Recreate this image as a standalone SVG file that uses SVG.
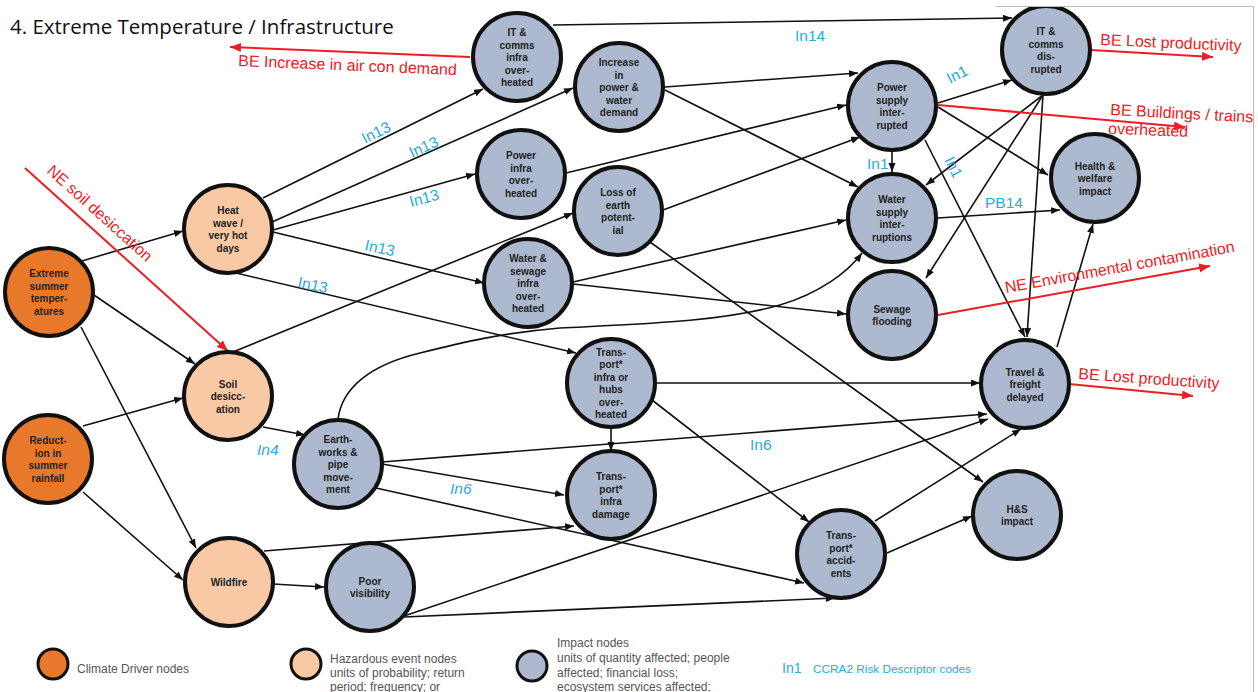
<svg xmlns="http://www.w3.org/2000/svg" width="1258" height="692" viewBox="0 0 1258 692">
<defs>
<style>
.drv{fill:#E8792B;stroke:#111;stroke-width:4}
.haz{fill:#F9C9A5;stroke:#111;stroke-width:4}
.imp{fill:#ADB9CE;stroke:#111;stroke-width:4}
.lgc{stroke-width:3}
.nt{font-family:"Liberation Sans",Arial,sans-serif;font-weight:bold;font-size:10px;fill:#222;text-anchor:middle}
.c{stroke:#111;stroke-width:1.6;fill:none;marker-end:url(#ah)}
.r{stroke:#EE1C25;stroke-width:2;fill:none;marker-end:url(#rh)}
.rt{font-family:"Liberation Sans",Arial,sans-serif;font-size:16px;fill:#EE1C25}
.bt{font-family:"Liberation Sans",Arial,sans-serif;font-size:15.5px;fill:#2BA9E1}
.it{font-style:italic}
.lg{font-family:"Liberation Sans",Arial,sans-serif;font-size:12px;fill:#555}
.lb1{font-family:"Liberation Sans",Arial,sans-serif;font-size:14px;fill:#2BA9E1}
.lb2{font-family:"Liberation Sans",Arial,sans-serif;font-size:11.8px;fill:#2BA9E1}
.title{font-family:"Open Sans","Liberation Sans",sans-serif;font-size:20.5px;fill:#111}
</style>
<marker id="ah" markerUnits="userSpaceOnUse" markerWidth="10" markerHeight="8" refX="9" refY="3.5" orient="auto"><path d="M0,0 L9,3.5 L0,7 z" fill="#111"/></marker>
<marker id="rh" markerUnits="userSpaceOnUse" markerWidth="12" markerHeight="10" refX="11" refY="4.5" orient="auto"><path d="M0,0 L11,4.5 L0,9 z" fill="#EE1C25"/></marker>
</defs>
<rect width="1258" height="692" fill="#fff"/>
<text class="title" x="10" y="34">4. Extreme Temperature / Infrastructure</text>

<g id="connectors">
<line class="c" x1="82" y1="261" x2="183" y2="231"/>
<line class="c" x1="94" y1="295" x2="195" y2="364"/>
<line class="c" x1="81" y1="327" x2="196" y2="548"/>
<line class="c" x1="83" y1="426" x2="183" y2="398"/>
<line class="c" x1="83" y1="492" x2="183" y2="580"/>
<line class="c" x1="263" y1="198" x2="483" y2="89"/>
<line class="c" x1="272" y1="222" x2="573" y2="88"/>
<line class="c" x1="273" y1="230" x2="475" y2="174"/>
<line class="c" x1="273" y1="232" x2="484" y2="283"/>
<line class="c" x1="236" y1="273" x2="576" y2="353"/>
<line class="c" x1="233" y1="352" x2="573" y2="213"/>
<line class="c" x1="263" y1="427" x2="305" y2="435"/>
<path class="c" d="M338,419 C342,388 370,365 420,353 C460,343 500,333 560,328 C640,324 720,322 780,305 C820,293 848,272 862,253"/>
<line class="c" x1="382" y1="464" x2="564" y2="495"/>
<line class="c" x1="382" y1="462" x2="987" y2="414"/>
<line class="c" x1="376" y1="488" x2="804" y2="583"/>
<line class="c" x1="264" y1="551" x2="574" y2="526"/>
<line class="c" x1="273" y1="584" x2="324" y2="587"/>
<line class="c" x1="404" y1="616" x2="988" y2="419"/>
<line class="c" x1="404" y1="617" x2="835" y2="598"/>
<line class="c" x1="611" y1="428" x2="611" y2="451"/>
<line class="c" x1="657" y1="383" x2="980" y2="383"/>
<line class="c" x1="652" y1="400" x2="809" y2="522"/>
<line class="c" x1="663" y1="210" x2="860" y2="137"/>
<line class="c" x1="650" y1="242" x2="983" y2="482"/>
<line class="c" x1="553" y1="25" x2="1012" y2="18"/>
<line class="c" x1="665" y1="87" x2="858" y2="73"/>
<line class="c" x1="665" y1="90" x2="858" y2="187"/>
<line class="c" x1="566" y1="173" x2="846" y2="105"/>
<line class="c" x1="573" y1="282" x2="846" y2="220"/>
<line class="c" x1="573" y1="284" x2="846" y2="314"/>
<line class="c" x1="938" y1="103" x2="1012" y2="80"/>
<line class="c" x1="892" y1="151" x2="892" y2="172"/>
<line class="c" x1="938" y1="107" x2="1048" y2="175"/>
<line class="c" x1="925" y1="140" x2="1025" y2="337"/>
<line class="c" x1="1043" y1="95" x2="926" y2="185"/>
<line class="c" x1="1043" y1="95" x2="926" y2="278"/>
<line class="c" x1="1043" y1="95" x2="1027" y2="337"/>
<line class="c" x1="938" y1="218" x2="1060" y2="210"/>
<line class="c" x1="1057" y1="347" x2="1093" y2="224"/>
<line class="c" x1="875" y1="521" x2="1021" y2="429"/>
<line class="c" x1="887" y1="553" x2="972" y2="516"/>
</g>

<g id="external-effects">
<line class="r" x1="470" y1="57" x2="230" y2="47"/>
<text class="rt" transform="translate(238,66) rotate(2.4)">BE Increase in air con demand</text>
<line class="r" x1="1091" y1="50" x2="1213" y2="57"/>
<text class="rt" transform="translate(1100,45) rotate(2.5)">BE Lost productivity</text>
<line class="r" x1="938" y1="105" x2="1185" y2="127"/>
<text class="rt" transform="translate(1110,115) rotate(3)">BE Buildings / trains</text>
<text class="rt" transform="translate(1108,134) rotate(2)">overheated</text>
<line class="r" x1="25" y1="168" x2="228" y2="351"/>
<text class="rt" transform="translate(46,172) rotate(42)">NE soil desiccation</text>
<line class="r" x1="938" y1="315" x2="1210" y2="266"/>
<text class="rt" transform="translate(1006,293) rotate(-10.2)">NE Environmental contamination</text>
<line class="r" x1="1069" y1="384" x2="1193" y2="396"/>
<text class="rt" transform="translate(1078,379) rotate(4)">BE Lost productivity</text>
</g>

<g id="codes">
<text class="bt" x="795" y="41">In14</text>
<text class="bt" transform="translate(365,144) rotate(-27)">In13</text>
<text class="bt" transform="translate(412,158) rotate(-24)">In13</text>
<text class="bt" transform="translate(411,207) rotate(-15)">In13</text>
<text class="bt" transform="translate(364,250) rotate(12)">In13</text>
<text class="bt" transform="translate(297,287) rotate(12)">In13</text>
<text class="bt it" x="257" y="455">In4</text>
<text class="bt it" x="450" y="494">In6</text>
<text class="bt" x="750" y="450">In6</text>
<text class="bt" transform="translate(950,84) rotate(-27)">In1</text>
<text class="bt" x="867" y="169">In1</text>
<text class="bt" transform="translate(944,160) rotate(63)">In1</text>
<text class="bt" x="985" y="208">PB14</text>
</g>

<g id="n-extreme"><circle class="drv" cx="49" cy="292" r="44"/><text class="nt" x="49" y="277.25"><tspan x="49">Extreme</tspan><tspan x="49" dy="12.5">summer</tspan><tspan x="49" dy="12.5">temper-</tspan><tspan x="49" dy="12.5">atures</tspan></text></g>
<g id="n-reduction"><circle class="drv" cx="48" cy="459" r="44"/><text class="nt" x="48" y="444.25"><tspan x="48">Reduct-</tspan><tspan x="48" dy="12.5">ion in</tspan><tspan x="48" dy="12.5">summer</tspan><tspan x="48" dy="12.5">rainfall</tspan></text></g>
<g id="n-heatwave"><circle class="haz" cx="228" cy="229" r="44"/><text class="nt" x="228" y="214.25"><tspan x="228">Heat</tspan><tspan x="228" dy="12.5">wave /</tspan><tspan x="228" dy="12.5">very hot</tspan><tspan x="228" dy="12.5">days</tspan></text></g>
<g id="n-soil"><circle class="haz" cx="228" cy="396" r="44"/><text class="nt" x="228" y="387.5"><tspan x="228">Soil</tspan><tspan x="228" dy="12.5">desicc-</tspan><tspan x="228" dy="12.5">ation</tspan></text></g>
<g id="n-wildfire"><circle class="haz" cx="229" cy="582" r="44"/><text class="nt" x="229" y="586">Wildfire</text></g>
<g id="n-earthworks"><circle class="imp" cx="338" cy="464" r="44"/><text class="nt" x="338" y="443"><tspan x="338">Earth-</tspan><tspan x="338" dy="12.5">works &amp;</tspan><tspan x="338" dy="12.5">pipe</tspan><tspan x="338" dy="12.5">move-</tspan><tspan x="338" dy="12.5">ment</tspan></text></g>
<g id="n-poorvis"><circle class="imp" cx="370" cy="587" r="44"/><text class="nt" x="370" y="584.75"><tspan x="370">Poor</tspan><tspan x="370" dy="12.5">visibility</tspan></text></g>
<g id="n-itinfra"><circle class="imp" cx="517" cy="57" r="44"/><text class="nt" x="517" y="36"><tspan x="517">IT &amp;</tspan><tspan x="517" dy="12.5">comms</tspan><tspan x="517" dy="12.5">infra</tspan><tspan x="517" dy="12.5">over-</tspan><tspan x="517" dy="12.5">heated</tspan></text></g>
<g id="n-demand"><circle class="imp" cx="619" cy="87" r="44"/><text class="nt" x="619" y="66"><tspan x="619">Increase</tspan><tspan x="619" dy="12.5">in</tspan><tspan x="619" dy="12.5">power &amp;</tspan><tspan x="619" dy="12.5">water</tspan><tspan x="619" dy="12.5">demand</tspan></text></g>
<g id="n-powerinfra"><circle class="imp" cx="521" cy="174" r="44"/><text class="nt" x="521" y="159.25"><tspan x="521">Power</tspan><tspan x="521" dy="12.5">infra</tspan><tspan x="521" dy="12.5">over-</tspan><tspan x="521" dy="12.5">heated</tspan></text></g>
<g id="n-earthpot"><circle class="imp" cx="618" cy="211" r="44"/><text class="nt" x="618" y="196.25"><tspan x="618">Loss of</tspan><tspan x="618" dy="12.5">earth</tspan><tspan x="618" dy="12.5">potent-</tspan><tspan x="618" dy="12.5">ial</tspan></text></g>
<g id="n-waterinfra"><circle class="imp" cx="528" cy="283" r="44"/><text class="nt" x="528" y="262"><tspan x="528">Water &amp;</tspan><tspan x="528" dy="12.5">sewage</tspan><tspan x="528" dy="12.5">infra</tspan><tspan x="528" dy="12.5">over-</tspan><tspan x="528" dy="12.5">heated</tspan></text></g>
<g id="n-hubs"><circle class="imp" cx="611" cy="383" r="44"/><text class="nt" x="611" y="355.75"><tspan x="611">Trans-</tspan><tspan x="611" dy="12.5">port*</tspan><tspan x="611" dy="12.5">infra or</tspan><tspan x="611" dy="12.5">hubs</tspan><tspan x="611" dy="12.5">over-</tspan><tspan x="611" dy="12.5">heated</tspan></text></g>
<g id="n-damage"><circle class="imp" cx="611" cy="495" r="44"/><text class="nt" x="611" y="480.25"><tspan x="611">Trans-</tspan><tspan x="611" dy="12.5">port*</tspan><tspan x="611" dy="12.5">infra</tspan><tspan x="611" dy="12.5">damage</tspan></text></g>
<g id="n-accidents"><circle class="imp" cx="841" cy="554" r="44"/><text class="nt" x="841" y="539.25"><tspan x="841">Trans-</tspan><tspan x="841" dy="12.5">port*</tspan><tspan x="841" dy="12.5">accid-</tspan><tspan x="841" dy="12.5">ents</tspan></text></g>
<g id="n-hs"><circle class="imp" cx="1017" cy="515" r="44"/><text class="nt" x="1017" y="512.75"><tspan x="1017">H&amp;S</tspan><tspan x="1017" dy="12.5">impact</tspan></text></g>
<g id="n-travel"><circle class="imp" cx="1025" cy="384" r="44"/><text class="nt" x="1025" y="375.5"><tspan x="1025">Travel &amp;</tspan><tspan x="1025" dy="12.5">freight</tspan><tspan x="1025" dy="12.5">delayed</tspan></text></g>
<g id="n-sewage"><circle class="imp" cx="892" cy="315" r="44"/><text class="nt" x="892" y="312.75"><tspan x="892">Sewage</tspan><tspan x="892" dy="12.5">flooding</tspan></text></g>
<g id="n-watersupply"><circle class="imp" cx="892" cy="218" r="44"/><text class="nt" x="892" y="203.25"><tspan x="892">Water</tspan><tspan x="892" dy="12.5">supply</tspan><tspan x="892" dy="12.5">inter-</tspan><tspan x="892" dy="12.5">ruptions</tspan></text></g>
<g id="n-powersupply"><circle class="imp" cx="892" cy="106" r="44"/><text class="nt" x="892" y="91.25"><tspan x="892">Power</tspan><tspan x="892" dy="12.5">supply</tspan><tspan x="892" dy="12.5">inter-</tspan><tspan x="892" dy="12.5">rupted</tspan></text></g>
<g id="n-itdisrupted"><circle class="imp" cx="1046" cy="50" r="44"/><text class="nt" x="1046" y="35.25"><tspan x="1046">IT &amp;</tspan><tspan x="1046" dy="12.5">comms</tspan><tspan x="1046" dy="12.5">dis-</tspan><tspan x="1046" dy="12.5">rupted</tspan></text></g>
<g id="n-health"><circle class="imp" cx="1095" cy="178" r="44"/><text class="nt" x="1095" y="169.5"><tspan x="1095">Health &amp;</tspan><tspan x="1095" dy="12.5">welfare</tspan><tspan x="1095" dy="12.5">impact</tspan></text></g>

<g id="legend">
<circle class="drv lgc" cx="53" cy="664" r="15"/>
<text class="lg" x="77" y="673">Climate Driver nodes</text>
<circle class="haz lgc" cx="306" cy="664" r="15"/>
<text class="lg" x="330" y="663">Hazardous event nodes</text>
<text class="lg" x="330" y="677">units of probability; return</text>
<text class="lg" x="330" y="691">period; frequency; or</text>
<circle class="imp lgc" cx="532" cy="666" r="15"/>
<text class="lg" x="557" y="647">Impact nodes</text>
<text class="lg" x="557" y="662">units of quantity affected; people</text>
<text class="lg" x="557" y="677">affected; financial loss;</text>
<text class="lg" x="557" y="691">ecosystem services affected;</text>
<text class="lb1" x="782" y="673">In1</text>
<text class="lb2" x="813" y="673">CCRA2 Risk Descriptor codes</text>
</g>
<rect x="996" y="0" width="262" height="6" fill="#fff"/>
<path d="M996,6.5 H1253.5 V692" stroke="#bbb" stroke-width="1" fill="none"/>
</svg>
